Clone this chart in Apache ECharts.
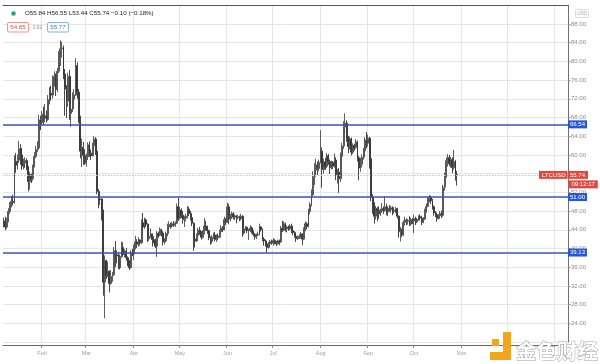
<!DOCTYPE html>
<html><head><meta charset="utf-8">
<script src="https://cdn.jsdelivr.net/npm/echarts@6/dist/echarts.min.js"></script>
<style>html,body{margin:0;padding:0;background:#fff}#c{width:600px;height:364px}</style>
</head><body><div id="c"></div>
<script>
// ---------- data ----------
const symbol = 'LTCUSD';
const currency = 'USD';
const startDate = '2020-01-07';      // first candle
const axisEndDate = '2021-01-09';    // right edge of the time axis
const firstOpen = 45.9;
// daily closes (Jan 7 .. Oct 29, 2020); open = previous close
const closes = [
 45.2,44.6,46.0,47.9,49.2,50.1,49.8,58.6,57.8,58.9,61.3,60.0,57.6,58.3,58.8,57.4,54.3,55.8,54.9,57.6,59.7,61.2,61.5,67.5,66.9,
 68.7,67.8,68.4,67.6,71.8,73.2,72.8,75.4,76.8,74.0,77.9,80.6,82.7,82.9,77.3,74.1,71.5,76.8,68.9,69.8,71.9,72.8,79.1,73.4,67.8,60.8,61.6,59.9,58.3,
 59.6,62.2,60.4,59.8,62.0,63.4,60.8,52.2,50.4,50.6,48.2,32.8,37.4,34.2,35.1,32.5,34.0,34.4,39.5,38.6,38.4,35.9,38.3,40.2,38.7,39.4,38.0,37.1,35.9,39.0,38.8,
 40.3,41.4,40.9,41.8,41.2,45.5,44.6,46.1,45.2,42.1,42.6,43.1,41.9,41.6,40.5,43.2,42.8,44.1,43.3,41.4,41.6,43.2,44.6,45.1,44.8,45.3,45.0,45.4,48.9,46.5,
 48.2,47.1,46.2,46.5,46.9,48.4,47.5,46.6,45.4,42.0,41.6,42.8,43.9,43.5,42.4,43.2,44.8,44.5,43.8,42.3,41.5,42.4,42.9,41.9,42.6,42.4,43.6,44.4,44.0,46.2,45.6,
 48.9,46.3,47.0,47.4,46.7,47.0,46.6,46.8,46.4,46.9,43.3,44.2,44.5,43.8,43.9,44.4,43.6,43.0,42.5,42.9,43.0,44.6,44.0,42.0,41.6,41.0,40.2,41.0,41.5,41.2,
 41.7,41.2,41.0,41.6,41.4,44.3,43.9,45.3,44.2,44.6,44.2,44.8,43.8,43.4,42.6,42.1,42.3,42.6,43.1,42.0,44.0,45.3,44.7,47.9,49.4,51.5,55.4,56.8,57.9,57.1,58.4,
 60.8,56.9,58.5,57.6,59.8,58.6,57.3,58.4,57.6,58.9,55.8,56.3,54.9,59.7,61.9,66.0,66.8,63.6,61.8,63.4,60.6,62.0,61.6,62.8,59.4,57.2,58.0,59.5,60.9,63.2,62.5,
 63.6,59.2,50.9,49.5,46.9,48.5,48.2,47.4,48.0,48.6,48.1,48.9,47.8,48.6,48.3,48.7,47.9,48.2,48.5,46.9,43.6,44.1,42.9,45.6,46.1,45.8,46.0,45.2,46.2,45.9,
 46.4,45.7,46.2,46.8,46.5,45.6,46.3,47.9,49.0,50.4,50.9,50.2,48.9,47.6,47.2,46.4,47.0,47.5,47.1,53.1,55.6,58.8,59.4,58.1,59.0,57.3,58.6,55.84,55.74
];
const highs = [
 46.6,46.8,46.5,48.6,49.9,51.2,51.5,59.9,60.4,60.1,63.0,62.3,61.5,59.2,59.5,59.3,57.6,56.4,56.0,57.9,60.6,61.9,62.9,68.6,68.4,
 69.4,70.3,70.9,69.5,72.8,74.5,74.8,77.0,77.9,77.4,78.6,82.2,84.5,84.2,83.4,78.4,74.9,77.6,78.2,71.1,73.4,74.0,80.7,79.8,74.1,68.4,63.5,62.8,61.2,
 60.3,62.7,62.9,61.2,62.6,64.0,63.8,61.0,52.7,51.9,50.7,48.3,38.5,37.6,37.2,35.3,35.4,35.0,40.3,41.6,39.6,39.2,38.7,41.5,41.3,39.8,40.1,38.3,37.5,39.6,39.9,
 40.8,42.7,42.0,42.4,42.0,46.2,47.6,46.6,46.4,45.4,43.1,44.3,43.2,42.6,42.1,43.7,43.6,44.5,44.2,43.7,42.2,43.6,45.3,45.8,45.5,45.7,45.9,45.8,49.6,50.8,
 48.9,48.6,48.0,47.0,47.4,49.1,48.9,48.0,46.9,45.6,43.2,43.2,44.4,44.6,43.7,43.9,46.5,45.9,44.9,44.0,42.6,42.9,43.4,43.5,43.0,43.2,44.0,45.0,44.8,46.8,46.5,
 49.8,49.5,47.4,47.9,47.8,47.3,47.1,47.2,47.0,47.4,47.1,44.8,44.8,44.7,44.2,45.0,44.7,43.9,43.3,43.2,43.6,45.3,44.8,44.3,42.4,41.9,41.3,41.4,41.8,41.9,
 42.2,42.0,41.6,41.9,41.9,44.8,45.9,45.8,45.6,44.9,44.9,45.2,45.3,44.1,43.7,42.9,42.8,43.1,43.5,43.2,44.5,45.8,45.6,48.5,49.9,52.6,56.5,58.3,59.2,58.6,59.0,
 65.3,61.6,59.2,59.4,60.4,60.2,59.0,58.8,58.7,60.3,59.5,57.0,57.2,60.5,62.6,67.2,68.9,67.4,64.1,63.9,63.7,62.5,62.4,63.4,63.1,59.8,59.4,60.1,61.5,63.8,64.9,
 64.3,63.9,59.6,51.6,49.9,49.1,48.9,49.0,48.5,49.7,49.0,51.2,49.6,49.0,49.3,49.1,49.0,48.8,48.9,48.6,47.1,44.6,44.2,46.0,46.8,46.4,46.3,46.9,46.6,46.5,
 47.2,46.8,46.5,47.1,47.3,47.0,46.7,48.5,49.6,51.0,51.4,51.3,50.6,49.2,48.0,47.6,47.4,48.0,48.1,53.6,56.2,59.5,60.2,60.0,59.6,59.5,61.1,58.9,56.55
];
const lows = [
 44.5,43.9,44.2,45.6,47.4,48.8,49.2,49.6,56.2,56.9,58.3,57.9,56.8,56.9,57.2,56.8,52.2,52.6,54.0,54.5,57.3,59.3,60.6,61.1,65.3,
 66.5,66.4,67.0,66.9,67.3,70.8,71.6,72.0,74.6,72.6,73.4,77.5,79.0,80.8,76.2,68.4,67.9,70.3,67.5,66.0,69.2,70.4,72.6,72.0,66.9,59.3,57.4,57.8,57.9,
 57.5,58.9,59.6,58.9,59.7,61.5,60.0,51.6,48.6,49.3,46.0,29.9,25.1,33.5,33.9,30.6,32.3,32.9,34.1,36.0,36.8,35.6,35.5,38.0,38.3,38.1,37.4,36.2,35.4,35.7,38.4,
 37.5,39.8,40.1,40.4,40.6,41.0,44.0,44.2,44.6,41.4,41.6,42.3,40.4,41.1,40.1,38.2,42.3,42.6,42.6,40.6,40.9,41.3,42.6,44.3,44.2,44.5,44.6,44.6,45.2,45.9,
 46.2,46.5,45.3,44.6,45.8,46.4,46.9,46.0,44.8,39.5,40.2,41.4,42.5,42.9,41.9,42.1,43.0,43.8,43.1,41.8,40.8,41.0,42.0,41.5,41.4,41.9,42.2,43.4,43.5,43.9,45.0,
 45.5,45.2,45.8,46.3,46.2,46.1,45.4,46.2,45.8,46.0,42.5,43.0,43.8,43.3,41.8,43.5,43.2,42.6,41.9,42.0,42.6,42.8,43.6,41.6,40.6,40.4,39.2,40.0,40.6,40.8,
 40.6,40.9,40.5,40.8,40.7,41.2,43.5,43.7,43.6,43.4,43.8,43.9,43.3,42.8,42.3,41.4,41.8,42.0,42.1,40.7,41.8,43.7,44.1,44.5,47.3,49.0,51.2,53.6,55.9,55.7,56.5,
 58.2,53.0,56.0,56.8,57.2,57.9,55.9,56.9,57.0,57.3,54.6,53.9,51.9,54.2,58.4,61.3,64.5,62.8,60.4,61.2,59.9,60.2,60.9,61.3,58.6,54.6,56.4,57.3,59.0,60.6,61.4,
 61.8,57.1,50.1,47.4,45.3,46.2,45.8,46.3,47.0,47.6,47.4,47.9,47.1,46.9,47.9,47.6,47.1,47.4,47.6,46.4,42.3,41.5,42.4,42.7,44.9,45.0,45.1,44.8,44.9,45.2,
 43.3,45.0,45.4,45.9,46.0,45.0,45.4,46.1,47.6,48.8,49.9,49.5,48.3,47.0,46.7,45.7,46.2,46.8,46.5,46.8,52.4,55.1,57.5,57.6,57.3,56.1,56.8,54.5,53.44
];
const levels = [66.54, 51.00, 39.13];           // horizontal support / resistance lines
const yMin = 20, yMax = 92, yStep = 4;            // price axis
const monthNames = ['Jan','Feb','Mar','Apr','May','Jun','Jul','Aug','Sep','Oct','Nov','Dec'];
const firstLabelDay = '2020-02-01', lastLabelDay = '2020-11-01';
const quoteBid = 54.85, quoteAsk = 55.77;
const countdown = '09:12:17';

// ---------- build ----------
const cats = [];
for (let t = Date.parse(startDate + 'T00:00:00Z'); t <= Date.parse(axisEndDate + 'T00:00:00Z'); t += 86400000) {
  cats.push(new Date(t).toISOString().slice(0, 10));
}
const ohlc = closes.map((c, i) => [i === 0 ? firstOpen : closes[i - 1], c, lows[i], highs[i]]);
const n = closes.length;
const lastOpen = ohlc[n - 1][0], lastClose = closes[n - 1];
const chg = lastClose - lastOpen, pct = chg / lastOpen * 100;
const sgn = v => (v < 0 ? '\u2212' : '+') + Math.abs(v).toFixed(2);
const headerText = `O${lastOpen.toFixed(2)} H${highs[n-1].toFixed(2)} L${lows[n-1].toFixed(2)} C${lastClose.toFixed(2)} ${sgn(chg)} (${sgn(pct)}%)`;

const isMonthStart = (i, v) => v.slice(8) === '01';
const gridLine = '#e6e6e6';
const FONT = 'Liberation Sans';
const GR = { left: 3, right: 32, top: 5.3, bottom: 22 };

const chart = echarts.init(document.getElementById('c'), null, { renderer: 'canvas' });
const option = {
  animation: false,
  textStyle: { fontFamily: FONT },
  grid: GR,
  xAxis: [{
    type: 'category', data: cats, boundaryGap: true, offset: 3,
    axisLine: { lineStyle: { color: '#6a6a6a', width: 1 } },
    axisTick: { show: true, length: 3, interval: isMonthStart, lineStyle: { color: '#8a8a8a' } },
    axisLabel: {
      interval: (i, v) => isMonthStart(i, v) && v >= firstLabelDay && v <= lastLabelDay,
      formatter: v => monthNames[+v.slice(5, 7) - 1],
      color: '#a0a0a0', fontSize: 5.5, margin: 5, fontFamily: FONT
    },
    splitLine: { show: true, interval: isMonthStart, lineStyle: { color: gridLine, width: 1 } }
  }, {
    type: 'category', data: cats, position: 'top', boundaryGap: true,
    axisLine: { lineStyle: { color: '#555', width: 1 } },
    axisTick: { show: false }, axisLabel: { show: false }, splitLine: { show: false }
  }],
  yAxis: {
    type: 'value', position: 'right', min: yMin, max: yMax, interval: yStep, scale: true,
    axisLine: { show: true, lineStyle: { color: '#707070' } },
    axisTick: { show: true, length: 2.5, lineStyle: { color: '#909090' } },
    axisLabel: { formatter: v => v.toFixed(2), color: '#8c8c8c', fontSize: 6, margin: 3,
      showMinLabel: false, showMaxLabel: false, fontFamily: FONT },
    splitLine: { lineStyle: { color: gridLine } }
  },
  series: [{
    type: 'candlestick', data: ohlc, barWidth: 1.4,
    itemStyle: { color: '#9c9c9c', color0: '#333333', borderColor: '#4c4c4c', borderColor0: '#333333', borderWidth: 0.9 },
    markLine: {
      symbol: ['none', 'none'], silent: true, animation: false, z: 10,
      data: levels.map(v => ({
        yAxis: v,
        lineStyle: { color: '#3653b4', width: 1.5, type: 'solid' },
        label: { show: true, position: 'end', distance: 0, formatter: p => (+p.value).toFixed(2),
          color: '#fff', backgroundColor: '#2557d8', fontSize: 6, padding: [1, 2, 1, 2], fontFamily: FONT }
      })).concat([{
        yAxis: lastClose,
        lineStyle: { color: '#efb1b1', width: 1, type: [1.5, 1.5] },
        label: { show: true, position: 'end', distance: 0, formatter: p => (+p.value).toFixed(2),
          color: '#fff', backgroundColor: '#dc4b3e', fontSize: 6, padding: [1, 3, 1, 2], fontFamily: FONT }
      }])
    }
  }]
};
chart.setOption(option);

// ---------- annotations (header, price tags, watermark) ----------
const yLast = chart.convertToPixel({ yAxisIndex: 0 }, lastClose);
const xAxisRight = chart.getWidth() - GR.right;
chart.setOption({
  graphic: [
    { type: 'circle', shape: { cx: 13.5, cy: 13.5, r: 2.2 }, style: { fill: '#2f9a86' } },
    { type: 'text', x: 25, y: 13.5, style: { text: headerText, fill: '#222', font: '6.2px "Liberation Sans"', verticalAlign: 'middle' } },
    { type: 'rect', shape: { x: 7.5, y: 22.5, width: 21, height: 9.5, r: 1.5 }, style: { fill: '#fff', stroke: '#e27c74', lineWidth: 0.8 } },
    { type: 'text', x: 18, y: 27.5, style: { text: quoteBid.toFixed(2), fill: '#d9534f', font: '6.2px "Liberation Sans"', align: 'center', verticalAlign: 'middle' } },
    { type: 'text', x: 37.5, y: 27.5, style: { text: (quoteAsk - quoteBid).toFixed(2), fill: '#8a8a8a', font: '4.5px "Liberation Sans"', align: 'center', verticalAlign: 'middle' } },
    { type: 'rect', shape: { x: 47.5, y: 22.5, width: 21, height: 9.5, r: 1.5 }, style: { fill: '#fff', stroke: '#6aa6d0', lineWidth: 0.8 } },
    { type: 'text', x: 58, y: 27.5, style: { text: quoteAsk.toFixed(2), fill: '#3c82b8', font: '6.2px "Liberation Sans"', align: 'center', verticalAlign: 'middle' } },
    { type: 'rect', shape: { x: 575.5, y: 9.5, width: 13, height: 8, r: 1 }, style: { fill: '#fff', stroke: '#d0d0d0', lineWidth: 0.8 } },
    { type: 'text', x: 582, y: 13.7, style: { text: currency, fill: '#a8a8a8', font: '4.6px "Liberation Sans"', align: 'center', verticalAlign: 'middle' } },
    { type: 'text', x: xAxisRight - 0.5, y: yLast, z: 20, style: { text: symbol, fill: '#fff', backgroundColor: '#dc4b3e', padding: [1, 2, 1, 3], font: '6px "Liberation Sans"', align: 'right', verticalAlign: 'middle' } },
    { type: 'text', x: xAxisRight + 0.5, y: yLast + 9.5, z: 20, style: { text: countdown, fill: '#fff', backgroundColor: '#dc4b3e', padding: [1, 3, 1, 3], font: '6px "Liberation Sans"', align: 'left', verticalAlign: 'middle' } },
    // watermark
    { type: 'rect', z: 30, shape: { x: 503, y: 332, width: 8, height: 28 }, style: { fill: '#f2a61c' } },
    { type: 'rect', z: 30, shape: { x: 490, y: 352, width: 21, height: 8 }, style: { fill: '#f2a61c' } },
    { type: 'rect', z: 30, shape: { x: 492, y: 339, width: 7, height: 7 }, style: { fill: '#f2a61c' } },
    { type: 'text', z: 30, x: 516, y: 351.5, style: { text: '金色财经', fill: '#ffffff', stroke: '#a0a0a0', lineWidth: 1,
        font: 'bold 20.5px "Noto Sans CJK SC"', verticalAlign: 'middle' } }
  ]
});
</script></body></html>
